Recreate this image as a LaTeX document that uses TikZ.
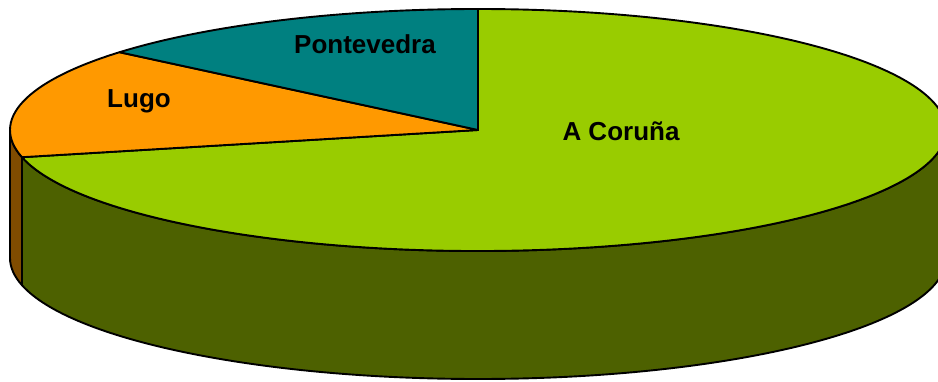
\documentclass[tikz,border=0pt]{standalone}
\usepackage{fontspec}
\setmainfont{Liberation Sans}
\definecolor{coruna}{RGB}{153,204,0}
\definecolor{corunaside}{RGB}{77,97,0}
\definecolor{lugo}{RGB}{255,153,0}
\definecolor{lugoside}{RGB}{128,76,0}
\definecolor{ponte}{RGB}{0,128,128}
\tikzset{
  slice/.style={draw=black, line width=1.9pt, line join=round},
  lbl/.style={font=\bfseries\fontsize{26}{30}\selectfont, text=black, inner sep=0pt}
}
\begin{document}
\begin{tikzpicture}[x=1pt,y=1pt]
\useasboundingbox (0,0) rectangle (938,381);
\clip (0,0) rectangle (938,381);
\coordinate (ct) at (478,251);
\coordinate (cb) at (478,123);
% side walls
\filldraw[slice, fill=corunaside] (ct) ++(193:468pt and 121pt)
  arc[start angle=193, end angle=360, x radius=468pt, y radius=121pt]
  -- ++(0,-128pt)
  arc[start angle=360, end angle=193, x radius=468pt, y radius=121pt] -- cycle;
\filldraw[slice, fill=lugoside] (ct) ++(180:468pt and 121pt)
  arc[start angle=180, end angle=193, x radius=468pt, y radius=121pt]
  -- ++(0,-128pt)
  arc[start angle=193, end angle=180, x radius=468pt, y radius=121pt] -- cycle;
% top slices
\filldraw[slice, fill=coruna] (ct) -- ++(193:468pt and 121pt)
  arc[start angle=193, end angle=450, x radius=468pt, y radius=121pt] -- cycle;
\filldraw[slice, fill=lugo] (ct) -- ++(140:468pt and 121pt)
  arc[start angle=140, end angle=193, x radius=468pt, y radius=121pt] -- cycle;
\filldraw[slice, fill=ponte] (ct) -- ++(90:468pt and 121pt)
  arc[start angle=90, end angle=140, x radius=468pt, y radius=121pt] -- cycle;
% labels
\node[lbl] (pontevedra) at (365,337) {Pontevedra};
\node[lbl] (lugolbl) at (139,280) {Lugo};
\node[lbl] (corunalbl) at (621,250) {A Coruña};
\end{tikzpicture}
\end{document}
